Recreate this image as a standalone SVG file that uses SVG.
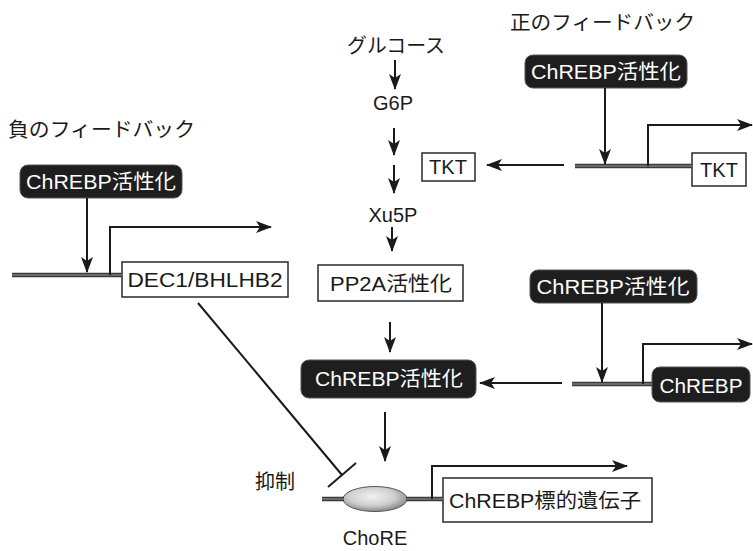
<svg xmlns="http://www.w3.org/2000/svg" width="753" height="551" viewBox="0 0 753 551">
<defs>
<marker id="ah" markerUnits="userSpaceOnUse" markerWidth="16" markerHeight="12" refX="15" refY="6" orient="auto">
<path d="M0,0 L16,6 L0,12 L4,6 Z" fill="#1a1a1a"/>
</marker>
<radialGradient id="eg" cx="45%" cy="40%" r="60%">
<stop offset="0" stop-color="#f2f2f2"/>
<stop offset="0.6" stop-color="#cfcfcf"/>
<stop offset="1" stop-color="#8a8a8a"/>
</radialGradient>
</defs>
<style>
text{font-family:"Liberation Sans","Noto Sans CJK JP",sans-serif;font-size:20px;fill:#1a1a1a}
.w{fill:#fff}
.c{text-anchor:middle}
.blk{fill:#1e1e1e;stroke:#555;stroke-width:1}
.box{fill:#fff;stroke:#2a2a2a;stroke-width:1.5}
.ln{stroke:#1a1a1a;stroke-width:2;fill:none}
.ar{stroke:#1a1a1a;stroke-width:2;fill:none;marker-end:url(#ah)}
.gene{stroke:#3a3a3a;stroke-width:4.5;fill:none}
.gin{stroke:#9a9a9a;stroke-width:1;fill:none}
</style>
<rect width="753" height="551" fill="#fff"/>

<g id="labels">
<text x="510" y="30" font-size="18" textLength="185" lengthAdjust="spacingAndGlyphs">正のフィードバック</text>
<text x="8" y="137" font-size="18" textLength="187" lengthAdjust="spacingAndGlyphs">負のフィードバック</text>
<text x="255" y="489" textLength="40" lengthAdjust="spacingAndGlyphs">抑制</text>
</g>

<g id="glucose"><text x="396" y="53" class="c" font-size="18" textLength="98" lengthAdjust="spacingAndGlyphs">グルコース</text></g>
<g id="g6p"><text x="393" y="110" class="c">G6P</text></g>
<g id="xu5p"><text x="393" y="222" class="c">Xu5P</text></g>
<g id="pp2a">
<rect class="box" x="318" y="265" width="145" height="36"/>
<text x="391" y="291" class="c" textLength="122" lengthAdjust="spacingAndGlyphs">PP2A活性化</text>
</g>
<g id="chrebp-center">
<rect class="blk" x="301" y="360" width="175" height="38" rx="8"/>
<text x="389" y="386" class="c w" textLength="148" lengthAdjust="spacingAndGlyphs">ChREBP活性化</text>
</g>

<g id="chrebp-left">
<rect class="blk" x="20" y="165" width="162" height="33" rx="8"/>
<text x="101" y="189" class="c w" textLength="150" lengthAdjust="spacingAndGlyphs">ChREBP活性化</text>
</g>
<g id="dec1">
<rect class="box" x="122" y="262" width="166" height="35"/>
<text x="205" y="287" class="c" textLength="155" lengthAdjust="spacingAndGlyphs">DEC1/BHLHB2</text>
</g>

<g id="chrebp-topright">
<rect class="blk" x="525" y="55" width="162" height="33" rx="8"/>
<text x="606" y="79" class="c w" textLength="150" lengthAdjust="spacingAndGlyphs">ChREBP活性化</text>
</g>
<g id="tkt-gene">
<rect class="box" x="692" y="153" width="54" height="33"/>
<text x="719" y="177" class="c">TKT</text>
</g>
<g id="tkt">
<rect class="box" x="422" y="153" width="53" height="28"/>
<text x="448" y="174" class="c">TKT</text>
</g>

<g id="chrebp-midright">
<rect class="blk" x="530" y="270" width="167" height="33" rx="8"/>
<text x="613" y="294" class="c w" textLength="153" lengthAdjust="spacingAndGlyphs">ChREBP活性化</text>
</g>
<g id="chrebp-gene">
<rect class="blk" x="652" y="367" width="98" height="35" rx="8"/>
<text x="701" y="393" class="c w" textLength="83" lengthAdjust="spacingAndGlyphs">ChREBP</text>
</g>

<g id="target">
<rect class="box" x="443" y="478" width="209" height="44"/>
<text x="545" y="508" class="c" textLength="192" lengthAdjust="spacingAndGlyphs">ChREBP標的遺伝子</text>
</g>
<g id="chore">
<ellipse cx="375" cy="499" rx="32" ry="12.5" fill="url(#eg)" stroke="#555" stroke-width="1"/>
<text x="375" y="545" class="c" font-size="19">ChoRE</text>
</g>

<g id="connectors">
<line class="gene" x1="12" y1="275" x2="122" y2="275"/>
<line class="gin" x1="12" y1="275" x2="122" y2="275"/>
<line class="gene" x1="575" y1="166" x2="692" y2="166"/>
<line class="gin" x1="575" y1="166" x2="692" y2="166"/>
<line class="gene" x1="572" y1="384" x2="652" y2="384"/>
<line class="gin" x1="572" y1="384" x2="652" y2="384"/>
<line class="gene" x1="322" y1="499" x2="344" y2="499"/>
<line class="gin" x1="322" y1="499" x2="344" y2="499"/>
<line class="gene" x1="406" y1="499" x2="443" y2="499"/>
<line class="gin" x1="406" y1="499" x2="443" y2="499"/>

<line class="ar" x1="395" y1="60" x2="395" y2="89"/>
<line class="ar" x1="394" y1="128" x2="394" y2="155"/>
<line class="ar" x1="394" y1="165" x2="394" y2="193"/>
<line class="ar" x1="392" y1="227" x2="392" y2="251"/>
<line class="ar" x1="390" y1="322" x2="390" y2="352"/>
<line class="ar" x1="385" y1="412" x2="385" y2="461"/>

<line class="ar" x1="87" y1="198" x2="87" y2="272"/>
<path class="ar" d="M110,275 V227 H271"/>
<line class="ln" x1="198" y1="303" x2="342" y2="475"/>
<line class="ln" x1="328" y1="487" x2="356" y2="463"/>

<line class="ar" x1="605" y1="88" x2="605" y2="164"/>
<path class="ar" d="M648,166 V125 H752"/>
<line class="ar" x1="564" y1="165" x2="487" y2="165"/>

<line class="ar" x1="602" y1="303" x2="602" y2="382"/>
<path class="ar" d="M643,384 V344 H752"/>
<line class="ar" x1="562" y1="383" x2="480" y2="383"/>

<path class="ar" d="M432,499 V466 H627"/>
</g>
</svg>
